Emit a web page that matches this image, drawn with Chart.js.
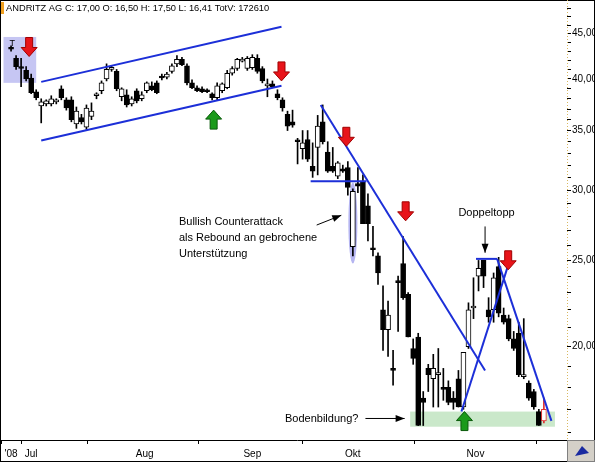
<!DOCTYPE html>
<html><head><meta charset="utf-8">
<script src="https://cdn.jsdelivr.net/npm/chart.js@4/dist/chart.umd.min.js"></script>
<style>html,body{margin:0;padding:0;background:#fff}canvas{display:block}</style>
</head><body>
<canvas id="c" width="595" height="462" style="width:595px;height:462px"></canvas>
<script>
const opens  = [43.3,42.2,41.3,40.9,40.1,38.7,37.3,37.5,37.5,37.7,39.0,37.9,37.9,35.6,36.2,35.3,36.3,38.3,38.8,40.0,41.0,40.8,38.2,38.4,37.5,38.8,38.0,38.8,39.3,39.6,40.2,40.2,40.8,41.6,42.1,41.4,39.6,39.1,39.0,38.9,38.5,38.1,38.8,39.1,40.6,41.1,41.9,41.1,41.2,42.2,41.1,39.3,39.5,38.5,37.9,36.5,35.8,34.1,33.4,34.2,31.9,33.5,35.8,33.1,31.9,31.1,31.7,31.8,25.9,30.5,30.7,28.8,25.8,25.3,22.0,20.9,18.9,23.7,24.8,22.9,19.9,20.5,17.5,18.9,18.4,18.6,18.0,18.0,17.5,18.4,17.1,20.0,22.1,24.0,25.0,22.0,22.0,24.6,21.7,21.5,20.4,20.7,18.5,18.2,17.8,16.9,16.5];
const highs  = [43.6,42.5,42.2,41.3,40.5,38.9,38.0,37.9,38.3,38.0,39.3,38.1,38.2,37.2,36.5,37.4,37.6,38.6,39.8,41.6,41.4,41.0,39.1,38.9,38.2,39.0,38.7,39.7,39.7,39.8,40.5,40.7,41.6,42.5,42.3,41.6,39.9,39.3,39.2,39.0,38.6,39.6,39.6,40.9,41.3,42.2,42.3,42.4,42.6,42.6,41.3,40.0,39.8,38.9,38.1,36.8,36.9,34.3,35.0,35.0,33.9,36.4,37.4,34.0,33.5,32.3,32.0,32.3,30.1,31.8,31.2,29.7,27.3,25.5,23.4,22.5,19.8,24.0,26.6,23.0,20.4,20.7,17.8,19.1,19.6,19.9,18.9,18.3,17.8,18.8,19.7,22.4,23.9,25.0,25.0,22.7,24.2,25.2,22.1,21.7,20.8,21.3,21.5,18.3,17.9,17.0,17.5];
const lows   = [43.0,41.0,39.2,39.8,38.5,37.9,35.7,37.3,37.3,37.5,37.9,36.9,35.8,35.2,35.6,35.1,36.0,38.0,38.5,39.8,40.8,38.8,37.8,37.2,37.3,37.6,37.8,38.6,38.8,38.5,39.9,40.0,40.6,41.3,41.4,39.4,39.0,38.7,38.6,38.6,37.9,37.9,38.6,39.0,40.4,40.9,41.8,40.9,41.0,40.6,39.6,38.2,39.1,37.9,36.8,35.0,35.3,32.1,32.5,32.3,31.0,31.2,33.8,31.4,31.4,30.9,31.4,29.6,25.3,29.8,27.5,26.3,25.3,23.5,19.8,19.5,18.1,20.8,22.6,20.5,19.1,16.3,16.3,17.8,17.1,17.1,17.4,17.2,17.0,17.1,17.0,19.9,21.5,23.1,23.3,21.3,21.3,21.6,21.2,20.3,19.8,18.5,18.4,17.4,17.0,16.3,16.41];
const closes = [43.2,41.3,41.1,40.0,38.6,38.1,37.7,37.8,38.0,37.9,38.1,37.1,36.0,36.8,35.8,37.1,36.8,38.4,39.6,41.0,41.1,39.0,39.0,37.4,38.0,37.8,38.4,39.6,38.9,38.6,40.1,40.5,41.4,42.1,41.5,39.6,39.1,38.8,38.7,38.7,38.1,39.3,39.5,40.6,41.1,42.1,42.1,42.2,42.3,40.8,39.8,39.4,39.2,38.1,37.1,35.4,35.5,34.0,33.9,32.5,31.5,35.4,34.0,31.5,31.5,32.2,31.5,30.2,29.9,30.3,27.5,27.5,25.7,24.2,20.9,21.7,18.8,23.6,22.7,20.5,19.4,16.3,17.3,18.6,18.9,18.7,17.9,17.3,17.3,17.1,19.7,22.0,22.2,24.5,24.0,21.6,23.9,21.8,21.3,20.4,19.9,18.6,18.5,17.5,17.1,16.3,17.0];
const monthTicks  = [0, 4, 26.6, 48, 68, 92.4];
const monthLabels = ["'08", "Jul", "Aug", "Sep", "Okt", "Nov"];
const yTicks = [20, 25, 30, 35, 40, 45];
// trend lines [x1, p1, x2, p2]
const trendLines = [
  [6, 39.7, 53.8, 45.8],
  [6, 34.1, 53.8, 39.3],
  [61.6, 37.4, 94.3, 18.8],
  [59.6, 30.7, 70.7, 30.7],
  [92.5, 25.1, 96.7, 25.1],
  [89.6, 16.9, 99.3, 25.1],
  [96.7, 25.1, 107.5, 16.5]
];
const redArrows = [[3.6,42.4],[53.8,39.8],[66.7,33.6],[78.5,27.7],[98.9,24.4]];
const greenArrows = [[40.3,36.9],[90.2,16.9]];

const idx = closes.map((_, i) => i);
const n = closes.length;
const isLast = i => i === n - 1;
const bodyFill = idx.map(i => isLast(i) ? '#fff' : (closes[i] >= opens[i] ? '#fff' : '#000'));
const edge = idx.map(i => isLast(i) ? '#e03030' : '#000');

const datasets = [
  {type:'bar', data: idx.map(i => ({x:i, y:[lows[i], highs[i]]})), backgroundColor: edge, borderWidth:0, barThickness:1, grouped:false, order:3},
  {type:'bar', data: idx.map(i => ({x:i, y:[opens[i], closes[i]]})), backgroundColor: bodyFill, borderColor: edge, borderWidth:1, borderSkipped:false, barThickness:5, minBarLength:2, grouped:false, order:2}
];
trendLines.forEach(t => datasets.push({type:'line', data:[{x:t[0],y:t[1]},{x:t[2],y:t[3]}], borderColor:'#1c2fd8', borderWidth:2, pointRadius:0, order:1}));

function arrow(ctx, x, y, up, fill, stroke){
  const d = up ? -1 : 1;
  ctx.beginPath();
  ctx.moveTo(x, y);
  ctx.lineTo(x - 8, y - d*9);
  ctx.lineTo(x - 3.5, y - d*9);
  ctx.lineTo(x - 3.5, y - d*19);
  ctx.lineTo(x + 3.5, y - d*19);
  ctx.lineTo(x + 3.5, y - d*9);
  ctx.lineTo(x + 8, y - d*9);
  ctx.closePath();
  ctx.fillStyle = fill; ctx.fill();
  ctx.strokeStyle = stroke; ctx.lineWidth = 1; ctx.stroke();
}
function pointer(ctx, x1, y1, x2, y2){
  ctx.strokeStyle = '#000'; ctx.fillStyle='#000'; ctx.lineWidth = 1;
  ctx.beginPath(); ctx.moveTo(x1,y1); ctx.lineTo(x2,y2); ctx.stroke();
  const a = Math.atan2(y2-y1, x2-x1);
  ctx.beginPath(); ctx.moveTo(x2,y2);
  ctx.lineTo(x2 - 9*Math.cos(a) + 3.5*Math.sin(a), y2 - 9*Math.sin(a) - 3.5*Math.cos(a));
  ctx.lineTo(x2 - 9*Math.cos(a) - 3.5*Math.sin(a), y2 - 9*Math.sin(a) + 3.5*Math.cos(a));
  ctx.closePath(); ctx.fill();
}

const deco = {
  id:'deco',
  beforeDatasetsDraw(chart){
    const {ctx, scales:{x, y}} = chart;
    ctx.save();
    ctx.fillStyle = 'rgba(160,160,235,0.6)';
    ctx.fillRect(x.getPixelForValue(-1.5), y.getPixelForValue(44.6), x.getPixelForValue(5)-x.getPixelForValue(-1.5), y.getPixelForValue(39.6)-y.getPixelForValue(44.6));
    ctx.fillStyle = 'rgba(150,210,150,0.5)';
    ctx.fillRect(x.getPixelForValue(79.4), y.getPixelForValue(16.9), x.getPixelForValue(108.2)-x.getPixelForValue(79.4), y.getPixelForValue(16.25)-y.getPixelForValue(16.9));
    ctx.fillStyle = 'rgba(120,120,230,0.55)';
    const cx = x.getPixelForValue(68), t = y.getPixelForValue(30.6), b = y.getPixelForValue(24.8);
    ctx.beginPath(); ctx.ellipse(cx, (t+b)/2, 4.5, (b-t)/2, 0, 0, Math.PI*2); ctx.fill();
    ctx.restore();
  },
  afterDatasetsDraw(chart){
    const {ctx, scales:{x, y}} = chart;
    ctx.save();
    redArrows.forEach(a => arrow(ctx, x.getPixelForValue(a[0]), y.getPixelForValue(a[1]), false, '#e8141a', '#a00000'));
    greenArrows.forEach(a => arrow(ctx, x.getPixelForValue(a[0]), y.getPixelForValue(a[1]), true, '#1a9a1a', '#0a5a0a'));
    pointer(ctx, x.getPixelForValue(60.8), y.getPixelForValue(27.4), x.getPixelForValue(65.7), y.getPixelForValue(28.1));
    pointer(ctx, x.getPixelForValue(94.3), y.getPixelForValue(27.3), x.getPixelForValue(94.3), y.getPixelForValue(25.5));
    pointer(ctx, x.getPixelForValue(70.5), y.getPixelForValue(16.6), x.getPixelForValue(78.3), y.getPixelForValue(16.6));
    ctx.fillStyle = '#000';
    ctx.font = '11px "Liberation Sans", Arial, sans-serif';
    ctx.textBaseline = 'middle'; ctx.textAlign = 'left';
    const tx = x.getPixelForValue(33.4);
    ctx.fillText('Bullish Counterattack', tx, y.getPixelForValue(27.6));
    ctx.fillText('als Rebound an gebrochene', tx, y.getPixelForValue(26.5));
    ctx.fillText('Unterstützung', tx, y.getPixelForValue(25.4));
    ctx.fillText('Doppeltopp', x.getPixelForValue(89), y.getPixelForValue(28.3));
    ctx.fillText('Bodenbildung?', x.getPixelForValue(54.5), y.getPixelForValue(16.6));
    ctx.font = '9px "Liberation Sans", Arial, sans-serif';
    ctx.fillText('T', x.getPixelForValue(-0.3), y.getPixelForValue(43.9));
    // header
    ctx.fillStyle = '#f0a020'; ctx.fillRect(0, 2, 4, 12);
    ctx.fillStyle = '#000'; ctx.font = '9.3px "Liberation Sans", Arial, sans-serif';
    ctx.fillText('ANDRITZ AG C: 17,00 O: 16,50 H: 17,50 L: 16,41 TotV: 172610', 6, 8);
    // frame lines
    const ca = chart.chartArea;
    ctx.strokeStyle = '#000'; ctx.lineWidth = 1;
    ctx.strokeRect(0.5, 0.5, 594, 461);
    ctx.beginPath(); ctx.moveTo(0, ca.bottom+0.5); ctx.lineTo(595, ca.bottom+0.5); ctx.stroke();
    ctx.strokeStyle = '#d8b860'; ctx.setLineDash([1,2]);
    ctx.beginPath(); ctx.moveTo(ca.right+0.5, 0); ctx.lineTo(ca.right+0.5, ca.bottom); ctx.stroke();
    ctx.setLineDash([]);
    ctx.fillStyle = '#d4d0c8'; ctx.fillRect(ca.right+1, ca.bottom+1, 595-ca.right-2, 462-ca.bottom-2);
    ctx.strokeStyle = '#808080'; ctx.strokeRect(ca.right+0.5, ca.bottom+0.5, 595-ca.right-1, 462-ca.bottom-1);
    ctx.fillStyle = '#1a2aa0';
    ctx.beginPath(); ctx.moveTo(ca.right+8, ca.bottom+16); ctx.lineTo(ca.right+15, ca.bottom+6); ctx.lineTo(ca.right+22, ca.bottom+13); ctx.closePath(); ctx.fill();
    ctx.restore();
  }
};

new Chart(document.getElementById('c'), {
  data: {datasets},
  plugins: [deco],
  options: {
    responsive:false, animation:false, devicePixelRatio:1,
    layout:{padding:{left:1, top:1, right:0, bottom:0}},
    plugins:{legend:{display:false}, tooltip:{enabled:false}},
    scales:{
      x:{type:'linear', min:-2, max:110.6, offset:false,
         grid:{drawOnChartArea:false, tickLength:4, color:'#000'}, border:{display:false},
         afterBuildTicks(s){ s.ticks = monthTicks.map(v => ({value:v})); },
         afterFit(s){ s.height = 22; },
         ticks:{autoSkip:false, maxRotation:0, padding:4, color:'#000', font:{size:10, family:'"Liberation Sans", Arial, sans-serif'},
           callback:(v, i) => monthLabels[i]}},
      y:{type:'logarithmic', position:'right', min:15.7, max:48.2,
         grid:{drawOnChartArea:false, tickLength:4, color:'#000'}, border:{display:false},
         afterBuildTicks(s){ const t=[]; for(let v=16; v<=48; v++) t.push({value:v}); s.ticks = t; },
         afterFit(s){ s.width = 28; },
         ticks:{autoSkip:false, padding:1, color:'#000', font:{size:10, family:'"Liberation Sans", Arial, sans-serif'},
           callback:(v) => yTicks.includes(v) ? v.toFixed(2).replace('.', ',') : ''}}
    }
  }
});
</script>
</body></html>
